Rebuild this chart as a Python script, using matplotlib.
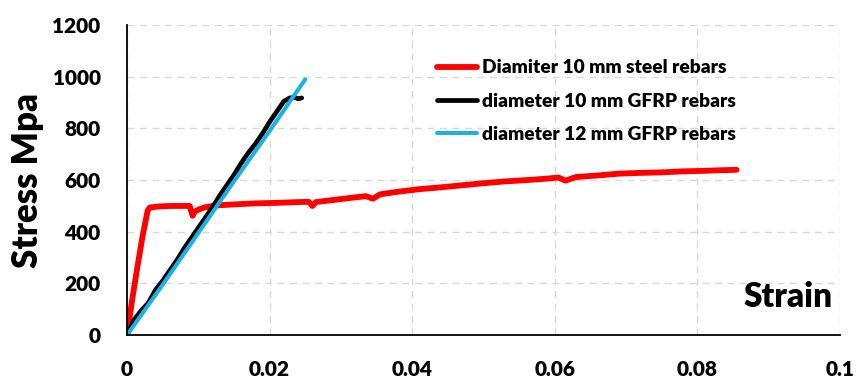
import matplotlib.pyplot as plt

plt.rcParams['font.family'] = ['Lato', 'DejaVu Sans']
plt.rcParams['font.weight'] = 'bold'

# steel rebar, 10 mm
steel_strain = [0, 0.0008, 0.0015, 0.0022, 0.0029, 0.0032, 0.0045, 0.006, 0.0088,
                0.0092, 0.0095, 0.0102, 0.011, 0.0125, 0.015, 0.018, 0.021, 0.024,
                0.0255, 0.026, 0.0265, 0.028, 0.031, 0.0335, 0.0345, 0.0355, 0.038,
                0.041, 0.044, 0.047, 0.05, 0.053, 0.056, 0.059, 0.0605, 0.0615,
                0.063, 0.066, 0.069, 0.072, 0.075, 0.078, 0.081, 0.083, 0.0855]
steel_stress = [0, 150, 270, 385, 482, 494, 498, 500, 500,
                462, 478, 488, 495, 502, 506, 510, 512, 515,
                516, 500, 515, 520, 530, 538, 528, 545, 555,
                565, 572, 580, 588, 595, 600, 606, 610, 598,
                612, 618, 625, 628, 630, 634, 636, 638, 640]

# GFRP rebar, 10 mm
gfrp10_strain = [0, 0.001, 0.002, 0.003, 0.004, 0.005, 0.006, 0.007, 0.008, 0.009,
                 0.01, 0.011, 0.012, 0.013, 0.014, 0.015, 0.016, 0.017, 0.018,
                 0.019, 0.02, 0.021, 0.0215, 0.022, 0.0228, 0.0235, 0.024, 0.0245]
gfrp10_stress = [0, 60, 95, 125, 175, 210, 250, 290, 335, 375,
                 415, 455, 495, 540, 580, 620, 665, 705, 740,
                 780, 825, 865, 885, 905, 918, 920, 915, 918]

# GFRP rebar, 12 mm
gfrp12_strain = [0, 0.005, 0.01, 0.015, 0.02, 0.025]
gfrp12_stress = [0, 195, 395, 595, 790, 990]

fig = plt.figure(figsize=(8.58, 3.8), dpi=100)
ax = fig.add_axes([0.148, 0.118, 0.831, 0.816])

ax.plot(steel_strain, steel_stress, color='#ff0000', lw=4.2,
        label='Diamiter 10 mm steel rebars', solid_capstyle='round')
ax.plot(gfrp10_strain, gfrp10_stress, color='black', lw=3.4,
        label='diameter 10 mm GFRP rebars', solid_capstyle='round')
ax.plot(gfrp12_strain, gfrp12_stress, color='#1ab0e8', lw=2.9,
        label='diameter 12 mm GFRP rebars', solid_capstyle='round')

ax.set_xlim(0, 0.1)
ax.set_ylim(0, 1200)
ax.set_xticks([0, 0.02, 0.04, 0.06, 0.08, 0.1])
ax.set_xticklabels(['0', '0.02', '0.04', '0.06', '0.08', '0.1'])
ax.set_yticks(range(0, 1201, 200))
ax.tick_params(labelsize=15, length=0)
ax.tick_params(axis='y', pad=19)
ax.tick_params(axis='x', pad=18)
for lab in ax.get_xticklabels() + ax.get_yticklabels():
    lab.set_fontweight('heavy')

ax.grid(True, color='#d9d9d9', ls=(0, (5, 4)), lw=1.0)
ax.set_axisbelow(True)
for s in ['top', 'right']:
    ax.spines[s].set_visible(False)
for s in ['left', 'bottom']:
    ax.spines[s].set_linewidth(1.3)

ax.set_ylabel('Stress Mpa', fontsize=25, fontweight='heavy', labelpad=6)
ax.text(0.99, 0.07, 'Strain', transform=ax.transAxes, ha='right', va='bottom',
        fontsize=24, fontweight='heavy')

leg = ax.legend(loc='upper left', bbox_to_anchor=(0.41, 0.945), frameon=False,
                fontsize=13.8, handlelength=2.1, handletextpad=0.25,
                labelspacing=0.85)
for t in leg.get_texts():
    t.set_fontweight('heavy')

fig.savefig('out.png', dpi=100)
